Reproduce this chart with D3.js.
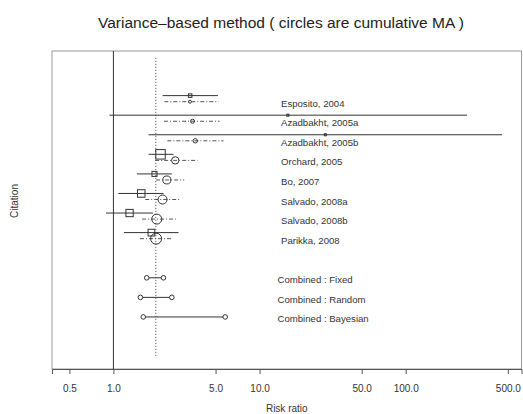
<!DOCTYPE html>
<head>
  <meta charset="utf-8">
  <script src="https://d3js.org/d3.v7.min.js"></script>
  <style>
    body { margin:0; background:#fff; }
    svg { font-family: "Liberation Sans", Arial, sans-serif; }
  </style>
</head>
<body>
<svg width="523" height="414"></svg>

<script>
  // study-level risk ratios (squares) and cumulative MA (circles)
  var studies   = ["Esposito, 2004", "Azadbakht, 2005a", "Azadbakht, 2005b", "Orchard, 2005",
                   "Bo, 2007", "Salvado, 2008a", "Salvado, 2008b", "Parikka, 2008"];
  var rr        = [3.35, 15.6, 28.2, 2.10, 1.91, 1.55, 1.29, 1.82];
  var rrLo      = [2.17, 0.94, 1.74, 1.74, 1.45, 1.08, 0.89, 1.18];
  var rrHi      = [5.19, 263,  457,  2.58, 2.51, 2.20, 1.86, 2.79];
  var weight    = [4.2, 1.4, 1.4, 31.1, 8.7, 19.4, 18.3, 15.6];
  var cumRR     = [3.34, 3.48, 3.63, 2.65, 2.32, 2.17, 1.98, 1.96];
  var cumLo     = [2.23, 2.22, 2.34, 1.93, 1.96, 1.65, 1.57, 1.52];
  var cumHi     = [5.25, 5.32, 5.67, 3.76, 3.05, 2.83, 2.67, 2.55];
  var cumWeight = [7.4, 13.2, 16, 45, 53, 67, 83, 100];

  var combined   = ["Combined : Fixed", "Combined : Random", "Combined : Bayesian"];
  var combLo     = [1.69, 1.53, 1.60];
  var combHi     = [2.20, 2.51, 5.82];
  var pooledRR   = 1.95;

  var tickValues = [0.5, 1, 5, 10, 50, 100, 500];
  var tickLabels = ["0.5", "1.0", "5.0", "10.0", "50.0", "100.0", "500.0"];

  var svg = d3.select("svg");
  var plotL = 52, plotR = 521.5, plotT = 51, plotB = 369;

  var x = d3.scaleLog().domain([0.38, 620]).range([plotL, plotR]);
  // row index -> y (circle rows); combined rows start at index 9
  var y = d3.scaleLinear().domain([-2.59, 13.66]).range([plotT, plotB]);
  var side = d3.scaleSqrt().domain([0, 31.1]).range([0, 9.5]);
  var rad  = d3.scaleSqrt().domain([0, 100]).range([0, 5.5]);

  var ink = "#333";

  svg.append("text")
    .attr("x", 281).attr("y", 28)
    .attr("text-anchor", "middle")
    .attr("font-size", 15.5)
    .attr("fill", "#222")
    .text("Variance\u2013based method ( circles are cumulative MA )");

  svg.append("rect")
    .attr("x", plotL).attr("y", plotT)
    .attr("width", plotR - plotL).attr("height", plotB - plotT)
    .attr("fill", "none").attr("stroke", "#999");

  // bottom axis
  var axis = svg.append("g").attr("transform", "translate(0," + plotB + ")")
    .call(d3.axisBottom(x).tickValues(tickValues)
      .tickFormat(function(d, i) { return tickLabels[i]; })
      .tickSize(5).tickPadding(11));
  axis.select(".domain").attr("stroke", "#555");
  axis.selectAll(".tick line").attr("stroke", "#555");
  axis.selectAll(".tick text").attr("font-size", 10).attr("fill", "#333")
    .attr("font-family", "Liberation Sans, Arial, sans-serif");

  svg.append("text")
    .attr("x", (plotL + plotR) / 2).attr("y", 412)
    .attr("text-anchor", "middle").attr("font-size", 10).attr("fill", "#333")
    .text("Risk ratio");

  svg.append("text")
    .attr("transform", "translate(18,201) rotate(-90)")
    .attr("text-anchor", "middle").attr("font-size", 10).attr("fill", "#333")
    .text("Citation");

  // reference lines
  svg.append("line")
    .attr("x1", x(1)).attr("x2", x(1)).attr("y1", plotT).attr("y2", plotB)
    .attr("stroke", ink);
  svg.append("line")
    .attr("x1", x(pooledRR)).attr("x2", x(pooledRR))
    .attr("y1", y(-2.24)).attr("y2", y(13.1))
    .attr("stroke", "#444").attr("stroke-dasharray", "1,2");

  var rows = svg.append("g").selectAll("g")
    .data(studies)
    .enter().append("g");

  // individual study CI + square
  rows.append("line")
    .attr("x1", function(d, i) { return x(rrLo[i]); })
    .attr("x2", function(d, i) { return x(rrHi[i]); })
    .attr("y1", function(d, i) { return y(i - 0.31); })
    .attr("y2", function(d, i) { return y(i - 0.31); })
    .attr("stroke", ink);
  rows.append("rect")
    .attr("x", function(d, i) { return x(rr[i]) - side(weight[i]) / 2; })
    .attr("y", function(d, i) { return y(i - 0.31) - side(weight[i]) / 2; })
    .attr("width", function(d, i) { return side(weight[i]); })
    .attr("height", function(d, i) { return side(weight[i]); })
    .attr("fill", "none").attr("stroke", ink);

  // cumulative CI + circle
  rows.append("line")
    .attr("x1", function(d, i) { return x(cumLo[i]); })
    .attr("x2", function(d, i) { return x(cumHi[i]); })
    .attr("y1", function(d, i) { return y(i); })
    .attr("y2", function(d, i) { return y(i); })
    .attr("stroke", "#555").attr("stroke-dasharray", "4,2,1,2");
  rows.append("circle")
    .attr("cx", function(d, i) { return x(cumRR[i]); })
    .attr("cy", function(d, i) { return y(i); })
    .attr("r", function(d, i) { return rad(cumWeight[i]); })
    .attr("fill", "none").attr("stroke", ink);

  rows.append("text")
    .attr("x", 281)
    .attr("y", function(d, i) { return y(i) + 5; })
    .attr("font-size", 9.6).attr("fill", "#333")
    .text(function(d) { return d; });

  // combined estimates
  var comb = svg.append("g").selectAll("g")
    .data(combined)
    .enter().append("g");

  comb.append("line")
    .attr("x1", function(d, i) { return x(combLo[i]); })
    .attr("x2", function(d, i) { return x(combHi[i]); })
    .attr("y1", function(d, i) { return y(i + 9); })
    .attr("y2", function(d, i) { return y(i + 9); })
    .attr("stroke", ink);
  comb.selectAll("circle")
    .data(function(d, i) { return [[combLo[i], i], [combHi[i], i]]; })
    .enter().append("circle")
    .attr("cx", function(d) { return x(d[0]); })
    .attr("cy", function(d) { return y(d[1] + 9); })
    .attr("r", 2.3)
    .attr("fill", "#fff").attr("stroke", ink);
  comb.append("text")
    .attr("x", 277.5)
    .attr("y", function(d, i) { return y(i + 9) + 5.5; })
    .attr("font-size", 9.6).attr("fill", "#333")
    .text(function(d) { return d; });
</script>
</body>
